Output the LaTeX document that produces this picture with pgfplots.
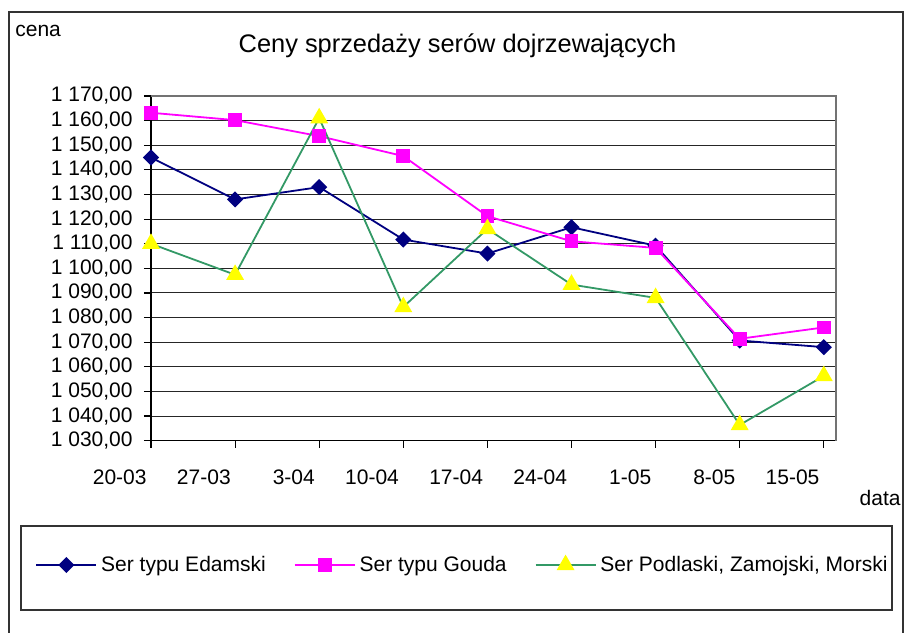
\documentclass[border=0pt]{standalone}
\usepackage{pgfplots}
\pgfplotsset{compat=1.18}
\usepackage{fontspec}
\setmainfont{Liberation Sans}
\definecolor{edam}{RGB}{0,0,128}
\definecolor{gouda}{RGB}{255,0,255}
\definecolor{podl}{RGB}{51,153,102}
\definecolor{tri}{RGB}{255,255,0}
\begin{document}
\begin{tikzpicture}
\useasboundingbox (-75.5pt,-95.65pt) rectangle (376.5pt,220.35pt);
\begin{axis}[
  at={(0pt,0pt)}, anchor=south west,
  scale only axis, width=342.5pt, height=172.35pt,
  xmin=0, xmax=8.145, ymin=1030, ymax=1170,
  clip=false,
  axis x line*=bottom, axis y line*=left,
  axis line style={black, line width=0.6pt, -},
  xtick={0,...,8},
  xticklabels={20-03,27-03,3-04,10-04,17-04,24-04,1-05,8-05,15-05},
  ytick={1030,1040,...,1170},
  yticklabels={{1 030,00},{1 040,00},{1 050,00},{1 060,00},{1 070,00},{1 080,00},{1 090,00},{1 100,00},{1 110,00},{1 120,00},{1 130,00},{1 140,00},{1 150,00},{1 160,00},{1 170,00}},
  /pgf/number format/assume math mode=true,
  tick align=outside, major tick length=3.5pt,
  tick style={black, line width=0.6pt},
  ymajorgrids, major grid style={black!85, line width=0.5pt},
  tick label style={font=\fontsize{10.5}{12}\selectfont},
  xticklabel style={anchor=north east, inner sep=0pt, xshift=-2pt, yshift=-11pt},
  yticklabel style={anchor=east, inner sep=0pt, xshift=-5.5pt},
  legend columns=3,
  legend cell align=left,
  legend style={draw=none, fill=none, at={(-0.1693,-0.3606)}, anchor=west,
    inner xsep=0pt, inner ysep=0pt, font=\fontsize{10.5}{12}\selectfont,
    /tikz/every even column/.append style={column sep=12pt}},
  legend image code/.code={\draw[mark repeat=2,mark phase=2] plot coordinates {(0pt,0pt)(15pt,0pt)(30pt,0pt)};},
]
\addplot[edam, line width=0.9pt, mark=square*, mark size=2.4pt, mark options={fill=edam, draw=edam, rotate=45}]
  coordinates {(0,1145) (1,1128) (2,1133) (3,1111.7) (4,1106) (5,1116.7) (6,1109.2) (7,1070.7) (8,1068)};
\addlegendentry{Ser typu Edamski}
\addplot[gouda, line width=0.9pt, mark=square*, mark size=3pt, mark options={fill=gouda, draw=gouda}]
  coordinates {(0,1163.2) (1,1160.2) (2,1153.7) (3,1145.6) (4,1121.2) (5,1111) (6,1108.3) (7,1071.4) (8,1076)};
\addlegendentry{Ser typu Gouda}
\addplot[podl, line width=0.9pt, mark=triangle*, mark size=4.3pt, mark options={fill=tri, draw=tri}]
  coordinates {(0,1110) (1,1097.4) (2,1161) (3,1084.3) (4,1116) (5,1093.4) (6,1088) (7,1036.4) (8,1056.3)};
\addlegendentry{Ser Podlaski, Zamojski, Morski}
\draw[black!55, line width=1pt] (rel axis cs:0,1) -- (rel axis cs:1,1) -- (rel axis cs:1,0);
\end{axis}
\draw[black!80, line width=0.7pt] (-71pt,-100pt) -- (-71pt,214.35pt) -- (376pt,214.35pt) -- (376pt,-100pt);
\draw[black!80, line width=0.6pt] (-65pt,-42.65pt) rectangle (370.5pt,-84.65pt);
\node[anchor=base west, font=\fontsize{10.5}{12}\selectfont, inner sep=0pt] at (-68pt,201.85pt) {cena};
\node[anchor=base, font=\fontsize{12.7}{15}\selectfont, inner sep=0pt] at (153.25pt,193.85pt) {Ceny sprzedaży serów dojrzewających};
\node[anchor=base east, font=\fontsize{10.5}{12}\selectfont, inner sep=0pt] at (375pt,-32.15pt) {data};
\end{tikzpicture}
\end{document}
